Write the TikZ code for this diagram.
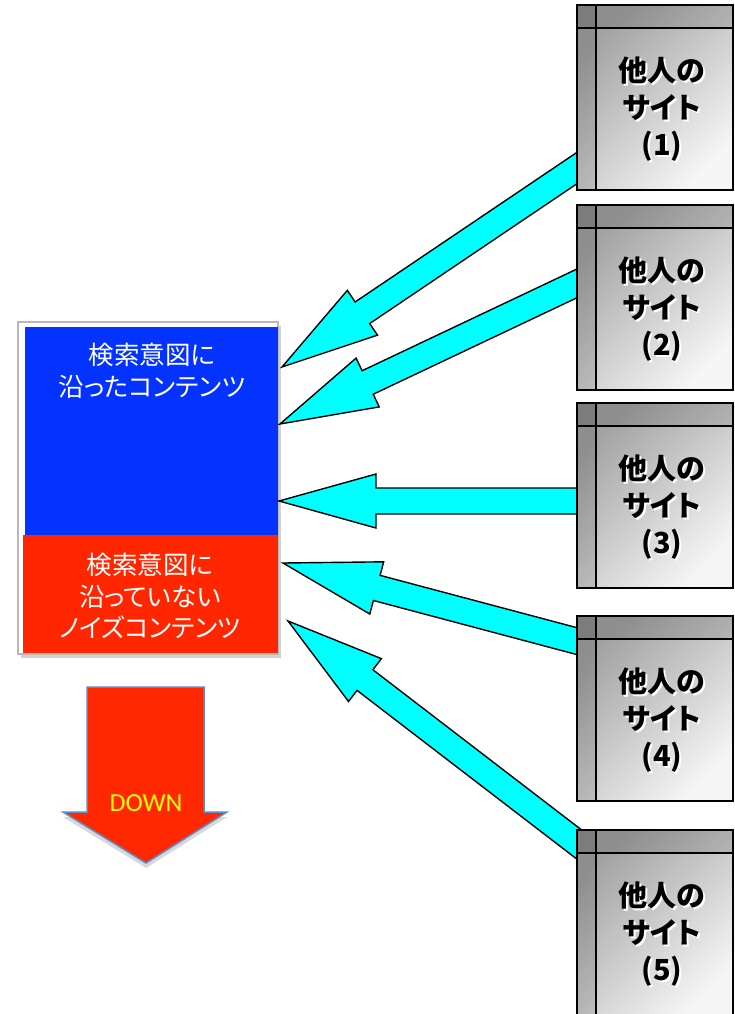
\documentclass[tikz,border=0pt]{standalone}
\usepackage{fontspec}
\newfontfamily\cjk[RawFeature=+palt]{Noto Sans CJK JP}
\newfontfamily\calib{Carlito}
\usetikzlibrary{calc,shadows}
\definecolor{cblue}{RGB}{4,51,255}
\definecolor{cred}{RGB}{255,38,0}
\definecolor{ared}{RGB}{255,40,0}
\definecolor{aborder}{RGB}{91,140,200}
\definecolor{cyanfill}{RGB}{0,255,255}
\definecolor{sdark}{RGB}{162,162,162}
\definecolor{slight}{RGB}{245,245,245}
\definecolor{dyellow}{RGB}{255,255,0}
\tikzset{
  sitebox/.style={rectangle, minimum width=156pt, minimum height=185pt, inner sep=0pt, outer sep=0pt,
    top color=sdark, bottom color=slight, shading angle=45},
  siteline/.style={draw=black, line width=1.5pt},
  sitetext/.style={align=center, font=\cjk\bfseries\fontsize{29}{37}\selectfont, inner sep=0pt},
  cyanarrow/.style={fill=cyanfill, draw=black, line width=1.4pt, line join=miter},
  contenttext/.style={align=center, text=white, font=\cjk\fontsize{25.5}{31.5}\selectfont, inner sep=0pt},
}
\newcommand{\blockarrow}[2]{%
  \coordinate (ba-n) at ($(#2)!97pt!(#1)$);
  \filldraw[cyanarrow] ($(#1)!13pt!90:(#2)$) -- ($(ba-n)!13pt!90:(#2)$) -- ($(ba-n)!27pt!90:(#2)$)
    -- (#2) -- ($(ba-n)!27pt!-90:(#2)$) -- ($(ba-n)!13pt!-90:(#2)$) -- ($(#1)!13pt!-90:(#2)$) -- cycle;
}
\newcommand{\sitebox}[2]{% #1 index, #2 top y
  \node[sitebox] (s#1) at (655,#2+92.5) {};
  \fill[black, opacity=0.12] (s#1.north west) rectangle ($(s#1.north east)+(0,23)$);
  \fill[black, opacity=0.12] (s#1.north west) rectangle ($(s#1.south west)+(19,0)$);
  \draw[siteline] ($(s#1.north west)+(0,23)$) -- ($(s#1.north east)+(0,23)$);
  \draw[siteline] ($(s#1.north west)+(19,0)$) -- ($(s#1.south west)+(19,0)$);
  \draw[siteline] (s#1.north west) rectangle (s#1.south east);
  \node[sitetext, text=white] (g#1) at ($(s#1.north)+(9,106)$) {他人の\\サイト\\(#1)};
  \node[sitetext, text=black] (l#1) at ($(s#1.north)+(7,104)$) {他人の\\サイト\\(#1)};
}
\begin{document}
\begin{tikzpicture}[x=1pt,y=-1pt]
\useasboundingbox (0,0) rectangle (734,1014);
\fill[white] (0,0) rectangle (734,1014);

% content box
\node[draw=gray!55, line width=1.5pt, fill=white, minimum width=260pt, minimum height=332pt,
  inner sep=0pt, outer sep=0pt,
  drop shadow={opacity=0.35, shadow xshift=3pt, shadow yshift=-4pt}] (cbox) at (148,488) {};
\node[fill=cblue, minimum width=253pt, minimum height=208pt, inner sep=0pt, outer sep=0pt] (blue) at (151.5,431) {};
\node[fill=cred, minimum width=255pt, minimum height=118pt, inner sep=0pt, outer sep=0pt] (red) at (150.5,594) {};
\node[contenttext] (bt) at (152,371) {検索意図に\\沿ったコンテンツ};
\node[contenttext] (rt) at (150,596) {検索意図に\\沿っていない\\ノイズコンテンツ};

% DOWN arrow
\filldraw[fill=ared, draw=aborder, line width=1.5pt,
  drop shadow={opacity=0.3, shadow xshift=0pt, shadow yshift=-5pt}]
  (87,687) -- (204,687) -- (204,812) -- (227,812) -- (146,863) -- (63,812) -- (87,812) -- cycle;
\node[text=dyellow, font=\calib\fontsize{26}{26}\selectfont, inner sep=0pt] (down) at (146,803) {DOWN};

% arrows (tails hidden under the site boxes)
\coordinate (t1) at (620,139);  \coordinate (p1) at (282,367);
\coordinate (t2) at (620,263);  \coordinate (p2) at (280,424);
\coordinate (t3) at (620,501);  \coordinate (p3) at (279,501);
\coordinate (t4) at (620,652.6);\coordinate (p4) at (283,563);
\coordinate (t5) at (620,875.8);\coordinate (p5) at (288,621);
\blockarrow{t1}{p1}
\blockarrow{t2}{p2}
\blockarrow{t3}{p3}
\blockarrow{t4}{p4}
\blockarrow{t5}{p5}

% site boxes
\sitebox{1}{5}
\sitebox{2}{205}
\sitebox{3}{403}
\sitebox{4}{616}
\sitebox{5}{830}
\end{tikzpicture}
\end{document}
